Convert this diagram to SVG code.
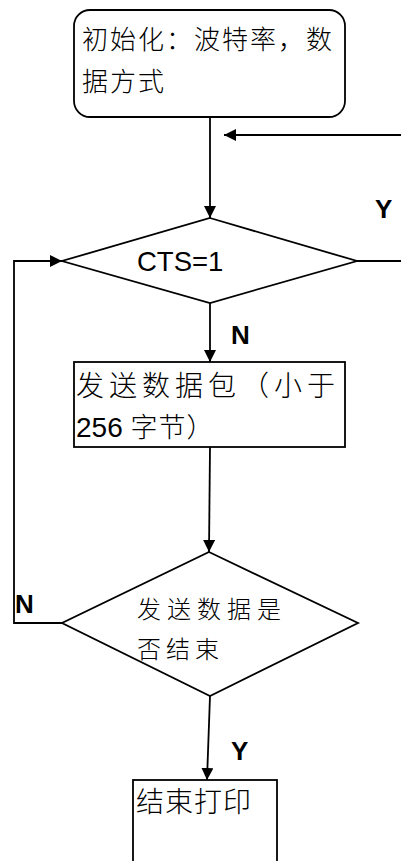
<svg xmlns="http://www.w3.org/2000/svg" width="401" height="861" viewBox="0 0 401 861">
<style>
.shape{fill:#fff;stroke:#000;stroke-width:1.8}
.line{fill:none;stroke:#000;stroke-width:1.8}
.cjk{font-family:"Liberation Sans","Noto Sans CJK SC",sans-serif;fill:#000;font-weight:300}
.lbl{font-family:"Liberation Sans",Arial,sans-serif;font-weight:bold;font-size:26px;fill:#000}
</style>
<defs>
<marker id="ah" viewBox="0 0 10 10" refX="10" refY="5" markerWidth="12" markerHeight="12" markerUnits="userSpaceOnUse" orient="auto">
<path d="M0,0 L10,5 L0,10 Z" fill="#000"/>
</marker>
</defs>
<rect width="401" height="861" fill="#fff"/>
<g id="connectors">
<line class="line" x1="210" y1="117" x2="210" y2="218" marker-end="url(#ah)"/>
<line class="line" x1="401" y1="135" x2="224" y2="135" marker-end="url(#ah)"/>
<line class="line" x1="357" y1="261" x2="401" y2="261"/>
<line class="line" x1="210" y1="303" x2="210" y2="362" marker-end="url(#ah)"/>
<line class="line" x1="210" y1="447" x2="209" y2="552" marker-end="url(#ah)"/>
<polyline class="line" points="62,623 14,623 14,261 62,261" marker-end="url(#ah)"/>
<line class="line" x1="210" y1="696" x2="207" y2="780" marker-end="url(#ah)"/>
<text class="lbl" x="375" y="218">Y</text>
<text class="lbl" x="231" y="344">N</text>
<text class="lbl" x="15" y="613">N</text>
<text class="lbl" x="231" y="760">Y</text>
</g>
<g id="init">
<rect class="shape" x="74" y="10" width="271" height="107" rx="16" ry="16"/>
<text class="cjk" font-size="26" letter-spacing="2" x="82" y="49">初始化：波特率，数</text>
<text class="cjk" font-size="26" letter-spacing="2" x="82" y="91">据方式</text>
</g>
<g id="cts">
<polygon class="shape" points="210,218 357,261 210,303 62,261"/>
<text font-family="Liberation Sans,Arial,sans-serif" font-size="27.5" x="137" y="271">CTS=1</text>
</g>
<g id="send">
<rect class="shape" x="74" y="362" width="271" height="85"/>
<text class="cjk" font-size="28" letter-spacing="5" x="76" y="396">发送数据包（小于</text>
<text x="76" y="437"><tspan font-family="Liberation Sans,Arial,sans-serif" font-size="28">256 </tspan><tspan class="cjk" font-size="27" letter-spacing="1">字节）</tspan></text>
</g>
<g id="done">
<polygon class="shape" points="209,552 358,623 210,696 62,623"/>
<text class="cjk" font-size="24" letter-spacing="6" x="137" y="618">发送数据是</text>
<text class="cjk" font-size="24" letter-spacing="5" x="137" y="658">否结束</text>
</g>
<g id="end">
<rect class="shape" x="133" y="780" width="144" height="100"/>
<text class="cjk" font-size="28" letter-spacing="1" x="136" y="812">结束打印</text>
</g>
</svg>
